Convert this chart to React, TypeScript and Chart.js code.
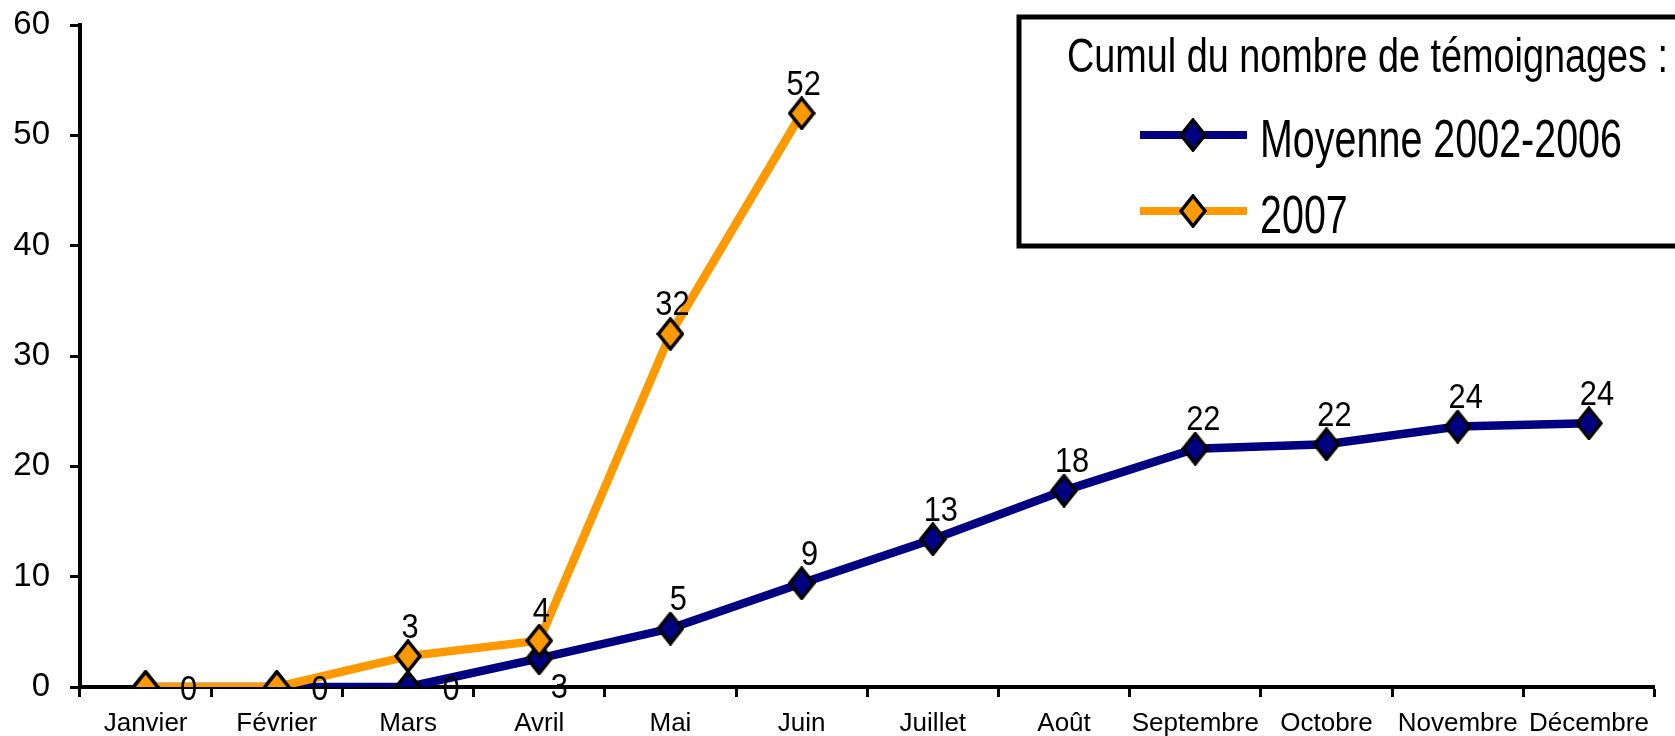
import React, { useEffect, useRef } from "react";
import { Chart, registerables } from "chart.js";

Chart.register(...registerables);

// ---------- data ----------
const months = [
  "Janvier", "Février", "Mars", "Avril", "Mai", "Juin",
  "Juillet", "Août", "Septembre", "Octobre", "Novembre", "Décembre",
];
const moyenneValues = [0, 0, 0, 2.6, 5.3, 9.4, 13.4, 17.8, 21.6, 22.0, 23.6, 23.9];
const values2007 = [0, 0, 2.8, 4.2, 32, 52, null, null, null, null, null, null];
const yTickValues = [0, 10, 20, 30, 40, 50, 60];
const legendTitle = "Cumul du nombre de témoignages :";
const seriesNames = ["Moyenne 2002-2006", "2007"];

// ---------- styles ----------
const NAVY = "#000080";
const ORANGE = "#FF9900";
const FONT = '"Liberation Sans", Arial, Helvetica, sans-serif';

function makeDiamond(fill: string): HTMLCanvasElement {
  const c = document.createElement("canvas");
  c.width = 28;
  c.height = 34;
  const g = c.getContext("2d")!;
  g.beginPath();
  g.moveTo(14, 2);
  g.lineTo(26, 17);
  g.lineTo(14, 32);
  g.lineTo(2, 17);
  g.closePath();
  g.fillStyle = fill;
  g.fill();
  g.lineWidth = 3.5;
  g.lineJoin = "miter";
  g.strokeStyle = "#000";
  g.stroke();
  return c;
}

function drawScaledText(
  ctx: CanvasRenderingContext2D,
  text: string,
  x: number,
  y: number,
  sx: number,
  align: "left" | "center"
) {
  const w = ctx.measureText(text).width * sx;
  const left = align === "center" ? x - w / 2 : x;
  ctx.save();
  ctx.translate(left, y);
  ctx.scale(sx, 1);
  ctx.textAlign = "left";
  ctx.textBaseline = "alphabetic";
  ctx.fillText(text, 0, 0);
  ctx.restore();
}

export default function App() {
  const ref = useRef<HTMLCanvasElement | null>(null);

  useEffect(() => {
    if (!ref.current) return;
    const navyDiamond = makeDiamond(NAVY);
    const orangeDiamond = makeDiamond(ORANGE);

    const labelPlugin = {
      id: "valueLabels",
      afterDatasetsDraw(chart: any) {
        const ctx = chart.ctx as CanvasRenderingContext2D;
        ctx.save();
        ctx.fillStyle = "#000";
        ctx.font = `35px ${FONT}`;
        chart.data.datasets.forEach((ds: any, di: number) => {
          const meta = chart.getDatasetMeta(di);
          meta.data.forEach((pt: any, i: number) => {
            const v = ds.data[i];
            if (v === null || v === undefined) return;
            const txt = String(Math.round(v));
            let dx = 8, dy = -31;
            if (ds.label === seriesNames[0]) {
              if (v === 0) { dx = 43; dy = 0; }
              else if (i === 3) { dx = 20; dy = 27; }
            } else {
              if (v === 0) return;
              dx = 2;
            }
            drawScaledText(ctx, txt, pt.x + dx, pt.y + dy + 12.5, 0.88, "center");
          });
        });
        ctx.restore();
      },
    };

    const legendPlugin = {
      id: "customLegend",
      afterDraw(chart: any) {
        const ctx = chart.ctx as CanvasRenderingContext2D;
        ctx.save();
        ctx.fillStyle = "#fff";
        ctx.fillRect(1019, 17, 700, 229);
        ctx.strokeStyle = "#000";
        ctx.lineWidth = 5;
        ctx.strokeRect(1019, 17, 700, 229);

        ctx.fillStyle = "#000";
        ctx.font = `47.5px ${FONT}`;
        const tw = ctx.measureText(legendTitle).width;
        drawScaledText(ctx, legendTitle, 1067, 72, 601 / tw, "left");

        const rows = [
          { y: 135, color: NAVY, img: navyDiamond, text: seriesNames[0], base: 157 },
          { y: 211, color: ORANGE, img: orangeDiamond, text: seriesNames[1], base: 233 },
        ];
        ctx.font = `54.5px ${FONT}`;
        const sx = 362 / ctx.measureText(seriesNames[0]).width;
        rows.forEach((r) => {
          ctx.strokeStyle = r.color;
          ctx.lineWidth = 8;
          ctx.beginPath();
          ctx.moveTo(1140, r.y);
          ctx.lineTo(1247, r.y);
          ctx.stroke();
          ctx.drawImage(r.img, 1193 - r.img.width / 2, r.y - r.img.height / 2);
          ctx.fillStyle = "#000";
          drawScaledText(ctx, r.text, 1260, r.base, sx, "left");
        });
        ctx.restore();
      },
    };

    const chart = new Chart(ref.current, {
      type: "line",
      data: {
        labels: months,
        datasets: [
          {
            label: seriesNames[1],
            data: values2007,
            borderColor: ORANGE,
            backgroundColor: ORANGE,
            borderWidth: 8.5,
            pointStyle: orangeDiamond,
            pointRadius: 12,
            tension: 0,
            fill: false,
            spanGaps: false,
          },
          {
            label: seriesNames[0],
            data: moyenneValues,
            borderColor: NAVY,
            backgroundColor: NAVY,
            borderWidth: 8.5,
            pointStyle: navyDiamond,
            pointRadius: 12,
            tension: 0,
            fill: false,
          },
        ],
      },
      options: {
        animation: false,
        responsive: false,
        maintainAspectRatio: false,
        layout: { padding: { top: 25, right: 0, left: 2, bottom: 0 } },
        plugins: { legend: { display: false }, tooltip: { enabled: false } },
        scales: {
          x: {
            type: "category",
            offset: true,
            grid: {
              offset: true,
              drawOnChartArea: false,
              drawTicks: true,
              tickLength: 10,
              tickWidth: 3,
              tickColor: "#000",
            },
            border: { display: true, color: "#000", width: 4 },
            ticks: {
              color: "#000",
              font: { family: FONT, size: 26 },
              padding: 11,
              maxRotation: 0,
              autoSkip: false,
            },
            afterFit: (s: any) => {
              s.height = 49;
              s.paddingLeft = 0;
              s.paddingRight = 0;
            },
          },
          y: {
            min: yTickValues[0],
            max: yTickValues[yTickValues.length - 1],
            ticks: {
              stepSize: yTickValues[1] - yTickValues[0],
              color: "#000",
              font: { family: FONT, size: 33 },
              padding: 20,
            },
            grid: {
              drawOnChartArea: false,
              drawTicks: true,
              tickLength: 10,
              tickWidth: 3,
              tickColor: "#000",
            },
            border: { display: true, color: "#000", width: 4 },
            afterFit: (s: any) => {
              s.width = 78;
              s.paddingTop = 0;
              s.paddingBottom = 0;
            },
          },
        },
      },
      plugins: [labelPlugin, legendPlugin],
    } as any);

    return () => chart.destroy();
  }, []);

  return (
    <div style={{ position: "fixed", left: 0, top: 0, width: 1675, height: 736, background: "#fff" }}>
      <canvas ref={ref} width={1675} height={736} style={{ display: "block" }} />
    </div>
  );
}
